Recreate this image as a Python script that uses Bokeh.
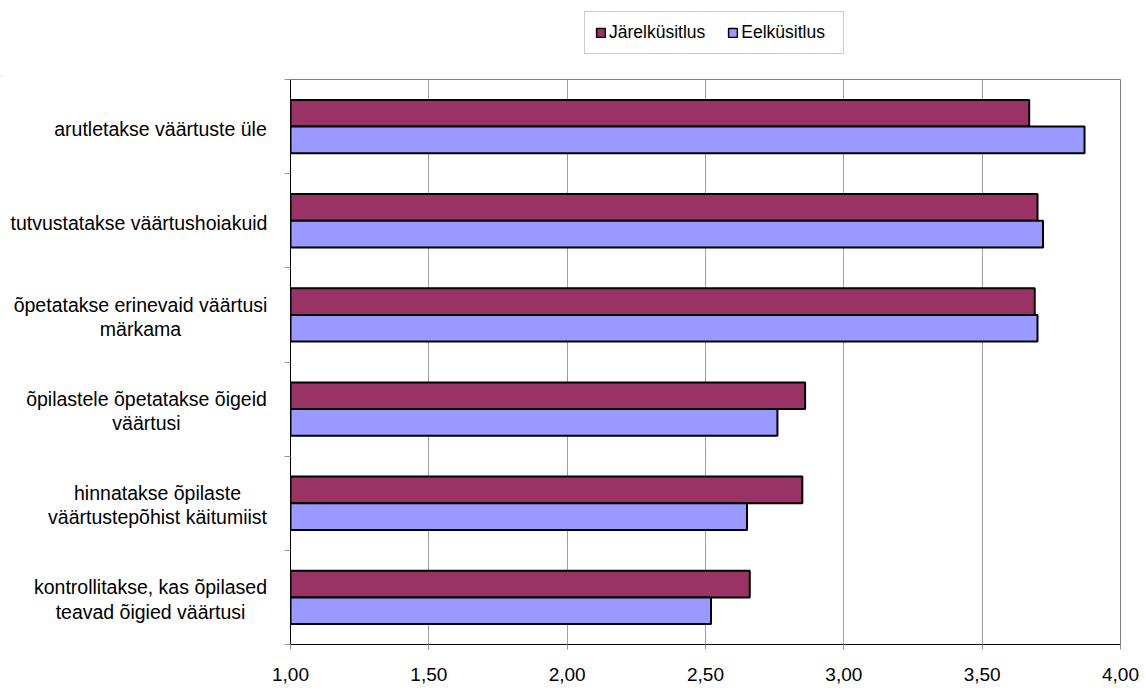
from bokeh.plotting import figure
from bokeh.layouts import column, row
from bokeh.models import (Range1d, FixedTicker, Legend, LegendItem,
                          ColumnDataSource)
from bokeh.embed import file_html
from bokeh.resources import INLINE

# Survey statements, listed top to bottom
categories = [
    ["arutletakse väärtuste üle"],
    ["tutvustatakse väärtushoiakuid"],
    ["õpetatakse erinevaid väärtusi", "märkama"],
    ["õpilastele õpetatakse õigeid", "väärtusi"],
    ["hinnatakse õpilaste", "väärtustepõhist käitumiist"],
    ["kontrollitakse, kas õpilased", "teavad õigied väärtusi"],
]
jarel = [3.67, 3.70, 3.69, 2.86, 2.85, 2.66]   # Järelküsitlus (follow-up survey)
eel = [3.87, 3.72, 3.70, 2.76, 2.65, 2.52]     # Eelküsitlus (pre-survey)

series_names = ["Järelküsitlus", "Eelküsitlus"]
series_colors = ["#993366", "#9999FF"]

tick_values = [1.0, 1.5, 2.0, 2.5, 3.0, 3.5, 4.0]
tick_labels = ["1,00", "1,50", "2,00", "2,50", "3,00", "3,50", "4,00"]

# page geometry (px)
W, H = 1146, 691
TOP_H = 77            # legend strip
LABEL_W = 270         # category label column
BORDER_L, BORDER_R, BORDER_T, BORDER_B = 20, 26, 2, 47
MAIN_H = H - TOP_H
# horizontal centre (px, inside the label column) of each label block
label_centers_px = [160, 138.5, 140, 146, 157, 150]

FONT = "Liberation Sans"
n = len(categories)
bar_h = 0.283
x0, x1 = tick_values[0], tick_values[-1]

centers = [n - 0.5 - i for i in range(n)]
src_j = ColumnDataSource(dict(y=[c + bar_h / 2 for c in centers], v=jarel))
src_e = ColumnDataSource(dict(y=[c - bar_h / 2 for c in centers], v=eel))
y_range = Range1d(0, n)

# ---- main bar chart ----
p = figure(width=W - LABEL_W, height=MAIN_H, output_backend="svg",
           toolbar_location=None, x_range=Range1d(x0, x1), y_range=y_range,
           min_border_left=BORDER_L, min_border_right=BORDER_R,
           min_border_top=BORDER_T, min_border_bottom=BORDER_B)
p.background_fill_color = "white"
p.border_fill_color = "white"
p.outline_line_color = "#808080"
p.outline_line_width = 1

p.hbar(y="y", left=x0, right="v", height=bar_h, source=src_j,
       fill_color=series_colors[0], line_color="black", line_width=2)
p.hbar(y="y", left=x0, right="v", height=bar_h, source=src_e,
       fill_color=series_colors[1], line_color="black", line_width=2)

xa = p.xaxis[0]
xa.ticker = FixedTicker(ticks=tick_values)
xa.major_label_overrides = {v: s for v, s in zip(tick_values, tick_labels)}
xa.major_label_text_font = FONT
xa.major_label_text_font_size = "19px"
xa.major_label_text_color = "black"
xa.major_label_standoff = 18
xa.axis_line_color = "black"
xa.axis_line_width = 1
xa.major_tick_line_color = "#999999"
xa.major_tick_out = 5
xa.major_tick_in = 0
xa.minor_tick_line_color = None

# y axis: tick marks at category boundaries only
ya = p.yaxis[0]
ya.ticker = FixedTicker(ticks=list(range(n + 1)))
ya.major_label_overrides = {i: "" for i in range(n + 1)}
ya.major_label_text_font_size = "1px"
ya.major_label_standoff = 0
ya.axis_line_color = "black"
ya.axis_line_width = 1
ya.major_tick_line_color = "#999999"
ya.major_tick_out = 6
ya.major_tick_in = 0
ya.minor_tick_line_color = None

p.xgrid.ticker = FixedTicker(ticks=tick_values)
p.xgrid.grid_line_color = "#a0a0a0"
p.xgrid.grid_line_width = 1
p.ygrid.grid_line_color = None

# ---- category labels, each line centred within its block ----
lab = figure(width=LABEL_W, height=MAIN_H, output_backend="svg",
             toolbar_location=None, x_range=Range1d(0, LABEL_W), y_range=y_range,
             x_axis_location=None, y_axis_location=None,
             min_border_left=0, min_border_right=0,
             min_border_top=BORDER_T, min_border_bottom=BORDER_B)
lab.outline_line_color = None
lab.grid.grid_line_color = None
lab.text(x=label_centers_px, y=centers,
         text=["\n".join(lines) for lines in categories],
         text_align="center", text_baseline="middle", y_offset=2,
         text_font={"value": FONT}, text_font_size="19.5px",
         text_color="black", text_line_height=1.1)

# ---- legend strip ----
top = figure(width=W, height=TOP_H, output_backend="svg", toolbar_location=None,
             x_range=Range1d(0, W), y_range=Range1d(0, TOP_H),
             x_axis_location=None, y_axis_location=None,
             min_border=0)
top.outline_line_color = None
top.grid.grid_line_color = None
# swatch renderers share the bar styling; their one bar sits far outside the view
sw_j = top.hbar(y=[-5000], left=[-5000], right=[-4999], height=1,
                fill_color=series_colors[0], line_color="black", line_width=1.5)
sw_e = top.hbar(y=[-5000], left=[-5000], right=[-4999], height=1,
                fill_color=series_colors[1], line_color="black", line_width=1.5)
legend = Legend(items=[LegendItem(label=series_names[0], renderers=[sw_j]),
                       LegendItem(label=series_names[1], renderers=[sw_e])],
                orientation="horizontal", location=(584, 23),
                glyph_width=11, glyph_height=11, label_standoff=3,
                spacing=22, padding=10, label_width=92,
                label_text_font=FONT, label_text_font_size="17.5px",
                label_text_color="black",
                border_line_color="#999999", border_line_width=1,
                background_fill_color="white", background_fill_alpha=1)
top.add_layout(legend)

layout = column(top, row(lab, p))
open("out.html", "w").write(file_html(layout, INLINE))
